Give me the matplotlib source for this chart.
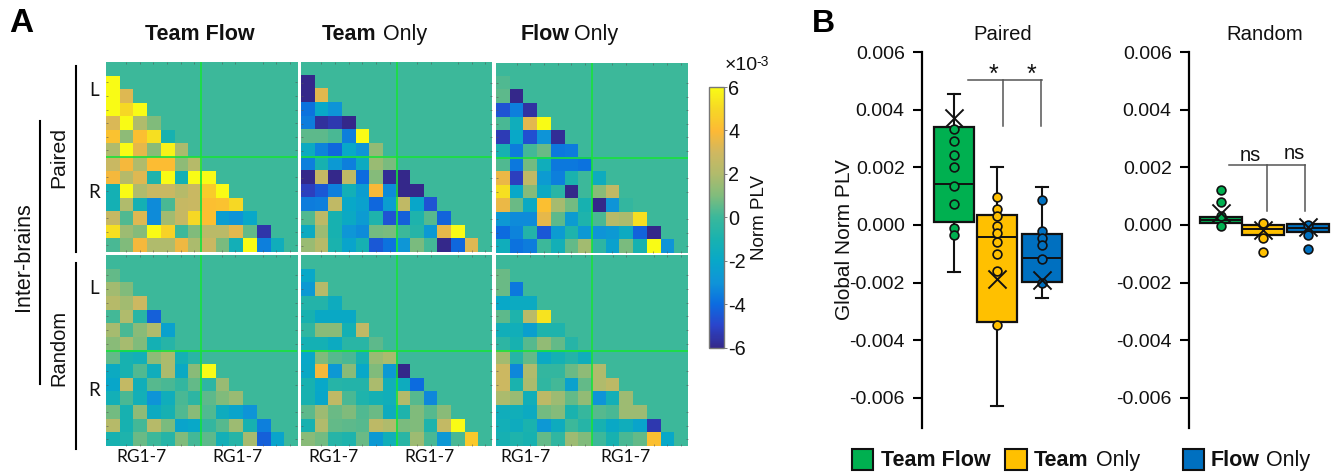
import numpy as np
import matplotlib
matplotlib.use("Agg")
import matplotlib.pyplot as plt
from matplotlib.colors import LinearSegmentedColormap
from matplotlib.patches import Rectangle

W, H = 1338, 472
plt.rcParams['font.family'] = ['Liberation Sans', 'DejaVu Sans']

# ---------- Data: lower-triangle matrices (x 1e-3), one list per row ----------
tf_paired = [
 [6], [6, 3.3], [6, 5, 6], [3.2, 6, 2, 1], [4.3, 1.3, 4.2, 5.2, -1],
 [2, 6, 3.5, 1.2, 5.7, 1.9], [2.8, 3.8, 2, 4.1, 4.1, 1.3, 2.2],
 [3.8, 2.2, 3.3, -0.8, 6, -1.2, 6, 6],
 [-1.2, 6, 2, 2.8, 2.8, 2.2, 2.8, 4.6, 6],
 [-1.2, 2, -1.2, -3.2, 0.2, 2.7, 2.8, 4.2, 4.3, 5],
 [2.7, 0.3, 3.3, -3.2, 1.7, 2.7, 5, 4.2, -2.5, -3, -2],
 [5.2, 1.6, 1.1, 6, 4.8, 0.0, 1, 2.3, 2.3, 3.4, 0.6, -5.5],
 [0.2, 1, 3.8, 2, 2, 3.7, 1.9, 2.8, 0.9, -1.3, 6, -3.5, -1.5]]
to_paired = [
 [-6], [-6, 3.4], [-3.8, -2, -3], [-3.6, -5.7, -5.4, -6], [0.5, 0.5, 0.2, -3.5, 6],
 [-1.7, -3.4, -4.1, -2, -3, 1.4], [-3.5, -1, -2.7, -3.5, -1.7, 1.5, 0.9],
 [-6, 2.7, -6, 2.5, -4, 1.1, -5.8, -6],
 [-5.2, -4.5, -3.5, -1.3, -2.5, 3.9, -3.2, -6, -6],
 [-3.6, -3.5, 2.5, -2, -2.3, -4.1, -2.5, 2.5, -2.1, -4.6],
 [0.3, 2.4, -1, -1.8, -2.6, -0.8, -4.6, -4.3, -0.8, 0.4, -4.2],
 [-1.7, 1.6, -1, -2.9, -3.2, 0.8, 0.9, 0, -0.6, -2.7, 3.5, 6],
 [1.5, 2.2, -0.9, -2.2, -1.1, -4.5, -3.8, -2.9, 0.9, 0.1, -6, -4.1, 3.3]]
fo_paired = [
 [0.3], [0.5, -6], [-4.6, -3.5, -5.6], [0.2, -1.5, 3.4, 6], [-5.3, -2, -4.7, -3, -5.8],
 [-1, -3.6, 0.1, 0.7, -3.7, -3.6], [0.3, -3.7, 0.8, -1.5, -3.7, -3.7, -3.8],
 [3.6, -5.2, 2.5, -2.6, -3.5, -0.9, 0, -1.6],
 [5.2, -2, 1.1, -1.8, -0.5, -6, 0, 1.2, 2.5],
 [3.6, 0.7, -1.8, 4.2, 1.8, 0.8, -1, -6, -3, -0.2],
 [-2.8, -3.2, -3.2, 3.5, 0.5, -2.6, -0.8, 0.2, 2.2, 1.9, 5.2],
 [-4, -3.4, -0.7, -4.5, -2.6, -0.8, -2.8, -3, -2.7, -1.7, -4.2, -6],
 [-1.5, -3.8, -3.6, 0, -1.3, 0.6, 1.7, -0.4, -2.3, 0.9, -1, 6, -3]]
tf_random = [
 [0.6], [1.7, 1], [2.2, 1.7, 2.9], [0.1, 2, -0.5, -4.3], [1.8, 0.2, 1.2, 2, -2.3],
 [1.2, 1.8, 1, -1.2, -0.6], [0.6, -1, -1.3, 1.3, 1.9, -1.2, -0.5],
 [-1.7, -1, 0.3, -1.5, 1.9, -1.8, 1.2, 6],
 [-2.1, 2.6, -1.4, 0.4, 0.2, -0.2, 0.6, -0.4, 1.5],
 [-1.3, 0.2, -1.3, -3, -1.5, 0.2, -0.4, 0.5, 1, 1.5],
 [0.8, -1, 1.3, -1.7, -1.1, 0.3, 1.2, 0.3, -1.6, -2.2, -3],
 [2.2, -1, 0.1, 2.2, 0.9, -2.2, -2, -0.2, 0.4, 1.6, -1, -3.5],
 [-1, -0.8, 0.7, 0, -0.6, 1, 0.1, 0.5, -1.3, -0.6, 1.8, -4.3, -2.2]]
to_random = [
 [-2], [-2.7, 2.2], [-0.7, -0.7, -1.6], [-1, -1.9, -1.9, -1.9], [-0.3, 1.2, 1.2, -1.2, 2.5],
 [-1.2, -1.2, -1.7, -0.5, -0.5, 0.5], [-2, 1, 0.4, 0.2, -1, 1.5, 1.9],
 [-1.9, 3.8, -2.8, 1.2, -2, 1, -2.7, -6],
 [-1, -2, -0.6, -0.7, -0.7, 1.9, -1.4, -1.6, -4],
 [-1, -2.1, 2.5, 0.2, -0.8, -1.2, -1.4, 2.1, 0.4, -3.3],
 [0.5, 1.6, 0.7, 1, 0.3, 0.7, -1.6, -0.8, 1, 0.4, 1.2],
 [-1, 2, 0.6, 0.5, 0.4, 2.4, 2, 0.9, 1, -0.8, 2.6, 6],
 [1.2, 0.8, -0.6, -0.8, 0.7, -2.7, -1.4, -0.5, 1.6, 0.2, -2.8, 0.2, 4.5]]
fo_random = [
 [0.7], [0.7, -3.7], [-2, -1.7, -1.7], [0.5, -0.8, 2.3, 5.3], [-1.4, -1.4, -2.4, -0.8, -0.8],
 [-0.4, -1, 0.4, 1.4, 0.6, -0.6], [1.7, -0.6, 0.6, -1.8, -1.2, -0.7, -1.5],
 [2.9, -3.3, 2, -0.2, -0.2, 0.7, 1.3, 2],
 [2.9, -0.9, 1.9, -0.3, 0.1, -2.3, 0.6, 2, 2.4],
 [1.9, 1.5, -1.4, 2.4, 1.6, 0.6, 1.4, -3, -1.3, 1.6],
 [-1.5, -1.4, -1.7, 0.8, 1.1, -0.9, -0.1, 0.4, 0.2, 1.6, 1.6],
 [-1.3, -1.6, -0.9, -2.8, -1.6, 0, -0.6, -1, -1.9, -1.5, -2.2, -5.4],
 [-1.1, -0.8, -1, 0.6, -0.3, 1.6, 1, 0, -1, 0.2, 0.6, 4.2, -2]]

# ---------- Data: box plots ----------
groups = ['Team Flow', 'Team Only', 'Flow Only']
box_colors = ['#00b050', '#ffc000', '#0070c0']

paired_whislo = [-0.00164, -0.00630, -0.00254]
paired_q1     = [0.00010, -0.00338, -0.00197]
paired_med    = [0.00142, -0.00041, -0.00115]
paired_q3     = [0.00340, 0.00035, -0.00031]
paired_whishi = [0.00456, 0.00200, 0.00133]
paired_mean   = [0.00370, -0.00189, -0.00191]
paired_pts_tf = [0.00334, 0.00293, 0.00244, 0.00203, 0.00137, 0.00072, -0.00010, -0.00036]
paired_pts_to = [0.00096, 0.00055, 0.00030, -0.00002, -0.00028, -0.00060, -0.00102, -0.00160, -0.00349]
paired_pts_fo = [0.00088, -0.00020, -0.00044, -0.00068, -0.00119, -0.00202]

random_q1   = [0.00008, -0.00034, -0.00024]
random_med  = [0.00017, -0.00015, -0.00010]
random_q3   = [0.00028, 0.00001, 0.00002]
random_mean = [0.00040, -0.00017, -0.00008]
random_pts_tf = [0.00120, 0.00080, 0.00030, -0.00003]
random_pts_to = [0.00006, -0.00044, -0.00094]
random_pts_fo = [0.00000, -0.00036, -0.00085]

ytick_vals = [-0.006, -0.004, -0.002, 0.0, 0.002, 0.004, 0.006]
cbar_ticks = [-6, -4, -2, 0, 2, 4, 6]

# ---------- helpers ----------
cmap = LinearSegmentedColormap.from_list('plv', [
    '#34288a', '#2a45cc', '#0c6ce0', '#0f94d8', '#08a8c8', '#18b2b0', '#3bb89b',
    '#80bc7c', '#b0bb6c', '#d0b860', '#fdb935', '#f6d825', '#f9fb15'])

fig = plt.figure(figsize=(W / 100, H / 100), dpi=100, facecolor='white')

def axpx(x0, y0, x1, y1):
    return fig.add_axes([x0 / W, 1 - y1 / H, (x1 - x0) / W, (y1 - y0) / H])

def T(x, y, s, **kw):
    kw.setdefault('va', 'center')
    kw.setdefault('ha', 'left')
    kw.setdefault('color', '#111111')
    return fig.text(x / W, 1 - y / H, s, **kw)

def Lpx(xs, ys, **kw):
    fig.add_artist(plt.Line2D([x / W for x in xs], [1 - y / H for y in ys], **kw))

def matrix(rows):
    m = np.zeros((14, 14))
    for i, row in enumerate(rows, start=1):
        m[i, :len(row)] = row
    return m

# ---------- Panel A ----------
panels = [
    (tf_paired, (105.7, 62, 296.8, 252)), (to_paired, (301, 62.5, 492, 252.5)), (fo_paired, (496, 62.5, 687.5, 253)),
    (tf_random, (105.5, 255, 296.8, 446)), (to_random, (301, 255, 492, 446)), (fo_random, (496, 255, 688, 446)),
]
im = None
for rows, box in panels:
    ax = axpx(*box)
    im = ax.imshow(matrix(rows), cmap=cmap, vmin=-6, vmax=6, aspect='auto',
                   interpolation='nearest', extent=(0, 14, 14, 0))
    ax.axvline(7, color='#18e23a', lw=1.2)
    ax.axhline(7, color='#18e23a', lw=1.2)
    ticks = [1.5, 2.5, 3.5, 4.5, 5.5, 6.5, 8.5, 9.5, 11.5, 12.5, 13.5]
    ax.set_xticks(ticks)
    ax.set_yticks(ticks)
    ax.tick_params(length=1.2, width=0.4, color='#555555', direction='in',
                   top=True, right=True, labelbottom=False, labelleft=False)
    for s in ax.spines.values():
        s.set_visible(False)

# Colorbar
cax = axpx(709, 87, 724, 347.7)
cb = fig.colorbar(im, cax=cax, ticks=cbar_ticks)
cb.ax.set_yticklabels([str(t) for t in cbar_ticks], fontsize=14.3)
cb.ax.tick_params(length=2, width=0.6, color='#666666', pad=1, direction='out', labelcolor='#111111')
cb.outline.set_edgecolor('#777777')
cb.outline.set_linewidth(1)
T(725, 66, '×10', fontsize=14)
T(756, 62, '-3', fontsize=10)
T(760, 218, 'Norm PLV', rotation=90, ha='center', fontsize=13.5)

# Panel A titles
T(145, 40, 'Team Flow', fontweight='bold', fontsize=15.5, va='baseline')
T(322, 40, 'Team', fontweight='bold', fontsize=15.5, va='baseline')
T(383, 40, 'Only', fontsize=15.5, va='baseline')
T(521, 40, 'Flow', fontweight='bold', fontsize=15.5, va='baseline')
T(574, 40, 'Only', fontsize=15.5, va='baseline')

# Panel letters
T(9, 24, 'A', fontweight='bold', fontsize=24, color='black')
T(812, 24, 'B', fontweight='bold', fontsize=23, color='black')

# Left labels and rules
T(24, 257, 'Inter-brains', rotation=90, ha='center', fontsize=15.5)
T(59, 157, 'Paired', rotation=90, ha='center', fontsize=15.2)
T(59, 348, 'Random', rotation=90, ha='center', fontsize=14.5)
Lpx([40, 40], [121, 384], color='black', lw=1.5)
Lpx([75.7, 75.7], [66, 252], color='black', lw=1.5)
Lpx([75.7, 75.7], [263, 449], color='black', lw=1.5)
for y, s in zip([91, 193, 289, 390], ['L', 'R', 'L', 'R']):
    T(94, y, s, ha='center', fontsize=13.5, family='Lato')
for x in [141, 237, 334, 430, 526, 625]:
    T(x, 457, 'RG1-7', ha='center', fontsize=12.5, family='Lato')

# ---------- Panel B ----------
def draw_boxes(ax, positions, q1, med, q3, lo, hi, mean, pts, width, caps):
    stats = [dict(med=med[i], q1=q1[i], q3=q3[i], whislo=lo[i], whishi=hi[i], fliers=[])
             for i in range(3)]
    arts = ax.bxp(stats, positions=positions, widths=width, patch_artist=True,
                  showcaps=caps, showfliers=False, capwidths=0.27, manage_ticks=False,
                  boxprops=dict(linewidth=1.6, edgecolor='#111111'),
                  medianprops=dict(color='#111111', linewidth=1.4),
                  whiskerprops=dict(color='#111111', linewidth=1.5),
                  capprops=dict(color='#111111', linewidth=1.5))
    for b, c in zip(arts['boxes'], box_colors):
        b.set_facecolor(c)
    for p, v, c in zip(positions, pts, box_colors):
        ax.scatter([p] * len(v), v, s=40, facecolor=c, edgecolor='#111111', linewidth=1.2, zorder=5)
    ax.scatter(positions, mean, marker='x', s=170, color='#111111', linewidth=1.4, zorder=6)
    ax.set_ylim(-0.00705, 0.006)
    ax.set_yticks(ytick_vals)
    ax.set_yticklabels([f'{v:.3f}' for v in ytick_vals], fontsize=14, color='#111111')
    ax.set_xticks([])
    ax.patch.set_alpha(0)
    for s in ['top', 'right', 'bottom']:
        ax.spines[s].set_visible(False)
    ax.spines['left'].set_linewidth(1.6)
    ax.tick_params(axis='y', length=6.5, width=1.5, pad=6)

GRAY = '#555555'
ax1 = axpx(922, 52.2, 1075, 428)
ax1.set_xlim(0.273, 3.75)
draw_boxes(ax1, [1, 1.977, 3], paired_q1, paired_med, paired_q3, paired_whislo, paired_whishi,
           paired_mean, [paired_pts_tf, paired_pts_to, paired_pts_fo], 0.92, True)
ax1.plot([1.31, 2.99], [0.00503, 0.00503], color=GRAY, lw=1.1)
ax1.plot([2.11, 2.11], [0.00503, 0.00345], color=GRAY, lw=1.1)
ax1.plot([2.98, 2.98], [0.00503, 0.00345], color=GRAY, lw=1.1)
ax1.text(1.89, 0.00522, '*', ha='center', va='center', fontsize=18, color='#111111')
ax1.text(2.75, 0.00522, '*', ha='center', va='center', fontsize=18, color='#111111')

ax2 = axpx(1189, 52.2, 1335, 428)
ax2.set_xlim(0.264, 3.62)
draw_boxes(ax2, [1, 1.966, 3], random_q1, random_med, random_q3, random_q1, random_q3,
           random_mean, [random_pts_tf, random_pts_to, random_pts_fo], 0.95, False)
ax2.plot([1.18, 2.93], [0.00207, 0.00207], color=GRAY, lw=1.1)
ax2.plot([2.06, 2.06], [0.00207, 0.00049], color=GRAY, lw=1.1)
ax2.plot([2.93, 2.93], [0.00207, 0.00049], color=GRAY, lw=1.1)
ax2.text(1.67, 0.00240, 'ns', ha='center', va='center', fontsize=14.5, color='#111111')
ax2.text(2.68, 0.00248, 'ns', ha='center', va='center', fontsize=14.5, color='#111111')

T(1003, 34, 'Paired', ha='center', fontsize=14.6)
T(1265, 34, 'Random', ha='center', fontsize=14.6)
T(844, 240, 'Global Norm PLV', rotation=90, ha='center', fontsize=15)

# Legend
for (x0, x1), c in zip([(852, 873), (1005, 1027), (1183, 1204)], box_colors):
    fig.add_artist(Rectangle((x0 / W, 1 - 470 / H), (x1 - x0) / W, 21 / H, transform=fig.transFigure,
                             facecolor=c, edgecolor='#111111', linewidth=1.5))
T(881, 466, 'Team Flow', fontweight='bold', fontsize=15.5, va='baseline')
T(1034, 466, 'Team', fontweight='bold', fontsize=15.5, va='baseline')
T(1096, 466, 'Only', fontsize=15.5, va='baseline')
T(1211, 466, 'Flow', fontweight='bold', fontsize=15.5, va='baseline')
T(1266, 466, 'Only', fontsize=15.5, va='baseline')

fig.savefig('out.png', dpi=100)
